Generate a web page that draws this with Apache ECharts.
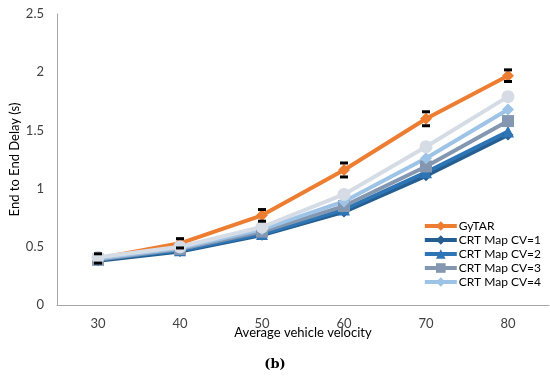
<!DOCTYPE html>
<html><head><meta charset="utf-8">
<script src="https://cdn.jsdelivr.net/npm/echarts@6/dist/echarts.min.js"></script>
<style>html,body{margin:0;padding:0;background:#fff}#c{width:550px;height:378px}</style>
</head><body><div id="c"></div>
<script>
var categories = ['30','40','50','60','70','80'];
var gytar = [0.40, 0.53, 0.77, 1.16, 1.60, 1.97];
var gytarErr = [0.04, 0.04, 0.05, 0.06, 0.06, 0.05];
var cv1 = [0.38, 0.46, 0.60, 0.80, 1.11, 1.46];
var cv2 = [0.39, 0.47, 0.61, 0.82, 1.14, 1.49];
var cv3 = [0.39, 0.48, 0.63, 0.85, 1.19, 1.58];
var cv4 = [0.40, 0.49, 0.65, 0.89, 1.26, 1.68];
var cv5 = [0.41, 0.50, 0.67, 0.95, 1.36, 1.79];
var yTicks = ['0','0.5','1','1.5','2','2.5'];

var FONT = 'Lato';
function lineSeries(name, data, color, symbol, size){
  return {name:name, type:'line', data:data, symbol:symbol, symbolSize:size,
    lineStyle:{width:4,color:color}, itemStyle:{color:color}, emphasis:{disabled:true}};
}
var errData = gytar.map(function(v,i){return [i, v-gytarErr[i], v+gytarErr[i]];});
var chart = echarts.init(document.getElementById('c'), null, {renderer:'canvas'});
chart.setOption({
  animation:false,
  grid:{left:57,right:1,top:14,bottom:73},
  xAxis:{type:'category',data:categories,boundaryGap:true,
    axisLine:{lineStyle:{color:'#a6a6a6'}},axisTick:{show:false},
    axisLabel:{color:'#404040',fontFamily:FONT,fontSize:13,margin:12},
    name:'Average vehicle velocity',nameLocation:'middle',nameGap:21,nameMoveOverlap:false,
    nameTextStyle:{color:'#000',fontFamily:FONT,fontSize:13}},
  yAxis:{type:'value',min:0,max:2.5,interval:0.5,
    axisLine:{show:true,lineStyle:{color:'#a6a6a6'}},axisTick:{show:false},splitLine:{show:false},
    axisLabel:{color:'#404040',fontFamily:FONT,fontSize:13,margin:13,
      formatter:function(v){return yTicks[Math.round(v/0.5)];}},
    name:'End to End Delay (s)',nameLocation:'middle',nameGap:36,nameMoveOverlap:false,
    nameTextStyle:{color:'#000',fontFamily:FONT,fontSize:13}},
  legend:{data:['GyTAR','CRT Map CV=1','CRT Map CV=2','CRT Map CV=3','CRT Map CV=4'],
    orient:'vertical',right:4,top:215,itemWidth:32,itemHeight:12,itemGap:2,
    lineStyle:{width:4},
    textStyle:{fontFamily:FONT,fontSize:12,color:'#000',padding:[0,0,0,-3]}},
  graphic:[{type:'text',left:'center',top:358,style:{text:'(b)',font:'bold 13px "DejaVu Serif", serif',fill:'#000'}}],
  series:[
    lineSeries('GyTAR',gytar,'#ED7D31','diamond',12),
    lineSeries('CRT Map CV=1',cv1,'#255E91','diamond',11),
    lineSeries('CRT Map CV=2',cv2,'#2E75B6','triangle',12),
    lineSeries('CRT Map CV=3',cv3,'#8497B0','rect',12),
    lineSeries('CRT Map CV=4',cv4,'#9DC3E6','diamond',12),
    lineSeries('CRT Map CV=5',cv5,'#D6DCE5','circle',13),
    {type:'custom',name:'err',data:errData,z:10,silent:true,
      renderItem:function(params,api){
        var lo=api.coord([api.value(0),api.value(1)]);
        var hi=api.coord([api.value(0),api.value(2)]);
        var w=4;
        return {type:'group',children:[
          {type:'line',shape:{x1:lo[0]-w,y1:lo[1],x2:lo[0]+w,y2:lo[1]},style:{stroke:'#000',lineWidth:3}},
          {type:'line',shape:{x1:hi[0]-w,y1:hi[1],x2:hi[0]+w,y2:hi[1]},style:{stroke:'#000',lineWidth:3}}
        ]};
      },
      encode:{x:0,y:[1,2]}}
  ]
});
</script></body></html>
